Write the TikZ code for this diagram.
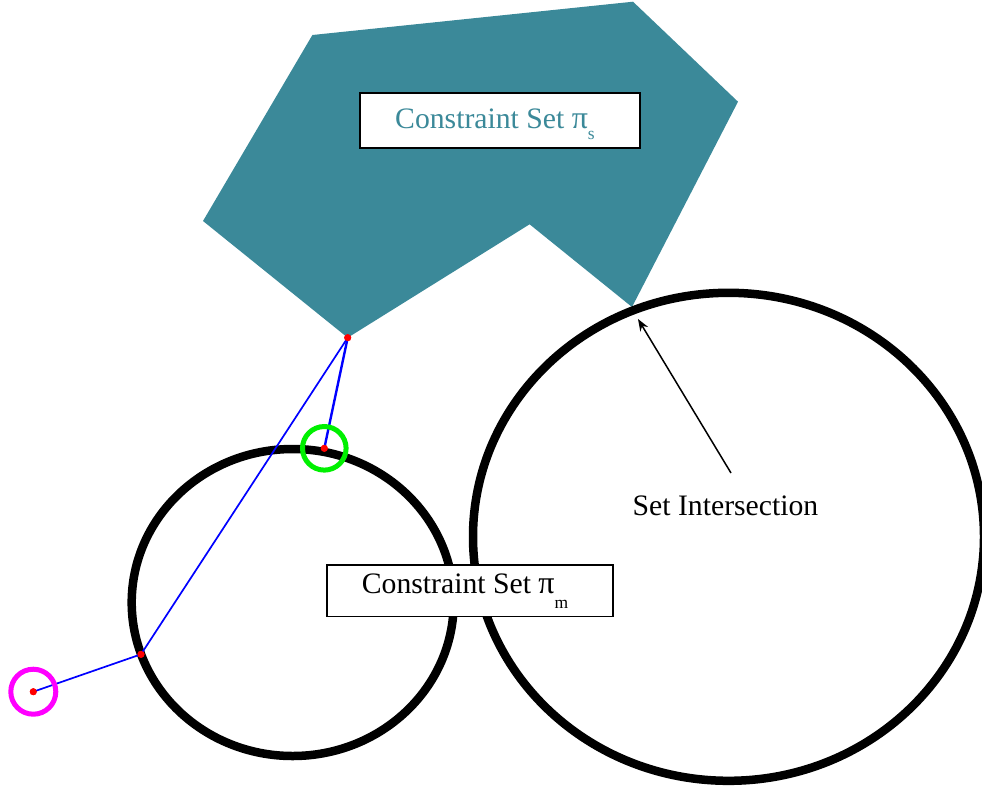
\documentclass[tikz,border=0pt]{standalone}
\usepackage{fontspec}
\setmainfont{Liberation Serif}
\usetikzlibrary{shapes.geometric,arrows.meta}
\definecolor{tealset}{RGB}{59,137,153}
\definecolor{ringgreen}{RGB}{0,240,0}
\definecolor{ringmagenta}{RGB}{255,0,255}
\newcommand{\lowsub}[2]{\raisebox{-#1}{\fontsize{17.5}{19}\selectfont #2}}
\newcommand{\bigpi}{{\fontsize{32}{34}\selectfont π}}
\begin{document}
\begin{tikzpicture}[x=1pt,y=-1pt,
  setring/.style={draw=black,line width=8.5pt,ellipse,inner sep=0pt},
  labelbox/.style={draw=black,fill=white,rectangle,inner sep=0pt},
  labeltext/.style={anchor=base west,inner sep=0pt,font=\fontsize{29.7}{34}\selectfont},
  reddot/.style={circle,fill=red,inner sep=0pt,minimum size=7pt},
  markring/.style={circle,draw,line width=5pt,inner sep=0pt},
  bluelink/.style={draw=blue,line width=1.7pt},
  bluethick/.style={draw=blue,line width=2.4pt},
  callout/.style={draw=black,line width=1.5pt,-{Stealth[length=12pt,width=9pt]}}]
\useasboundingbox (0,0) rectangle (982,788);
% polygon constraint set
\coordinate (p1) at (312.4,35);
\coordinate (p2) at (633,1.7);
\coordinate (p3) at (738,101.7);
\coordinate (p4) at (632,307);
\coordinate (p5) at (529.6,224.3);
\coordinate (p6) at (347.7,337.7);
\coordinate (p7) at (203,221);
\fill[tealset] (p1) -- (p2) -- (p3) -- (p4) -- (p5) -- (p6) -- (p7) -- cycle;
% circles
\node[setring,minimum width=322pt,minimum height=307pt] (cm) at (292.7,602.5) {};
\node[setring,minimum width=511pt,minimum height=488pt] (ci) at (728.5,536.8) {};
% box pi_m
\node[labelbox,minimum width=286pt,minimum height=51.7pt,line width=1.5pt] (bm) at (469.8,590.8) {};
\node[labeltext] (tm) at (361.7,593) {Constraint Set \bigpi\lowsub{15.4pt}{m}};
% points
\node[reddot] (A) at (347.7,337.7) {};
\node[reddot] (G) at (324.3,448.3) {};
\node[reddot] (P) at (141,654.3) {};
\node[reddot] (M) at (33.3,691.7) {};
\draw[bluethick] (A.center) -- (G.center);
\draw[bluelink] (A.center) -- (P.center);
\draw[bluelink] (P.center) -- (M.center);
\node[markring,draw=ringgreen,minimum size=43.6pt] (gr) at (G) {};
\node[markring,draw=ringmagenta,minimum size=45pt] (mr) at (M) {};
\node[reddot] at (A) {};
\node[reddot] at (G) {};
\node[reddot] at (P) {};
\node[reddot] at (M) {};
% box pi_s
\node[labelbox,minimum width=280pt,minimum height=55pt,line width=2pt] (bs) at (500,120.8) {};
\node[labeltext,text=tealset] (ts) at (395,128.8) {Constraint Set \bigpi\lowsub{11pt}{s}};
% annotation
\node[anchor=base,font=\fontsize{29.7}{34}\selectfont,inner sep=0pt] (si) at (725.5,515) {Set Intersection};
\coordinate (tail) at (731,473);
\coordinate (head) at (638,319);
\draw[callout] (tail) -- (head);
\end{tikzpicture}
\end{document}
